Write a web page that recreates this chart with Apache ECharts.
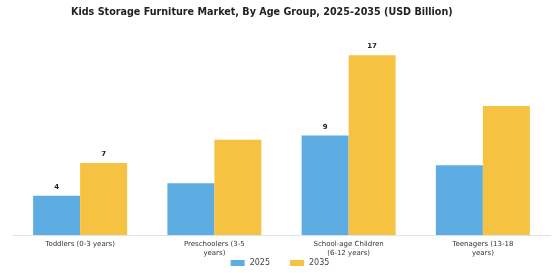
<!DOCTYPE html>
<html>
<head>
<meta charset="utf-8">
<script src="https://cdn.jsdelivr.net/npm/echarts@6/dist/echarts.min.js"></script>
<style>
html, body { margin: 0; padding: 0; background: #fff; }
#chart { width: 560px; height: 280px; }
</style>
</head>
<body>
<div id="chart"></div>
<script>
const categories = ['Toddlers (0-3 years)', 'Preschoolers (3-5\nyears)', 'School-age Children\n(6-12 years)', 'Teenagers (13-18\nyears)']
const values2025 = [3.7, 4.9, 9.4, 6.6]
const values2035 = [6.8, 9.0, 17.0, 12.2]
// only these categories carry a value label in the reference
const labelled = [true, false, true, false]

const font = 'DejaVu Sans'

function withLabels(vals) {
  return vals.map((v, i) => ({
    value: v,
    label: {
      show: labelled[i],
      position: 'top',
      formatter: () => String(Math.round(v)),
      fontFamily: font, fontSize: 7, fontWeight: 'bold', color: '#222', distance: 5
    }
  }))
}

const chart = echarts.init(document.getElementById('chart'))
chart.setOption({
  animation: false,
  title: {
    text: 'Kids Storage Furniture Market, By Age Group, 2025-2035 (USD Billion)',
    left: 66, top: 2,
    textStyle: { fontFamily: font, fontSize: 9.6, fontWeight: 'bold', color: '#222' }
  },
  legend: {
    bottom: 8, left: 'center',
    itemWidth: 14, itemHeight: 6, itemGap: 20,
    icon: 'rect',
    textStyle: { fontFamily: font, fontSize: 8, color: '#444' },
    data: ['2025', '2035']
  },
  grid: { left: 13, right: 10, top: 34, bottom: 45 },
  xAxis: {
    type: 'category',
    data: categories,
    axisLine: { lineStyle: { color: '#dde3ea', width: 1 } },
    axisTick: { show: false },
    axisLabel: { fontFamily: font, fontSize: 7, color: '#333', margin: 5, lineHeight: 9, interval: 0 }
  },
  yAxis: {
    type: 'value', min: 0, max: 19,
    show: false,
    splitLine: { show: false }
  },
  series: [
    {
      name: '2025', type: 'bar',
      data: withLabels(values2025),
      barGap: '0%', barCategoryGap: '30%',
      itemStyle: { color: '#5dade2' }
    },
    {
      name: '2035', type: 'bar',
      data: withLabels(values2035),
      barGap: '0%', barCategoryGap: '30%',
      itemStyle: { color: '#f5c242' }
    }
  ]
})
</script>
</body>
</html>
